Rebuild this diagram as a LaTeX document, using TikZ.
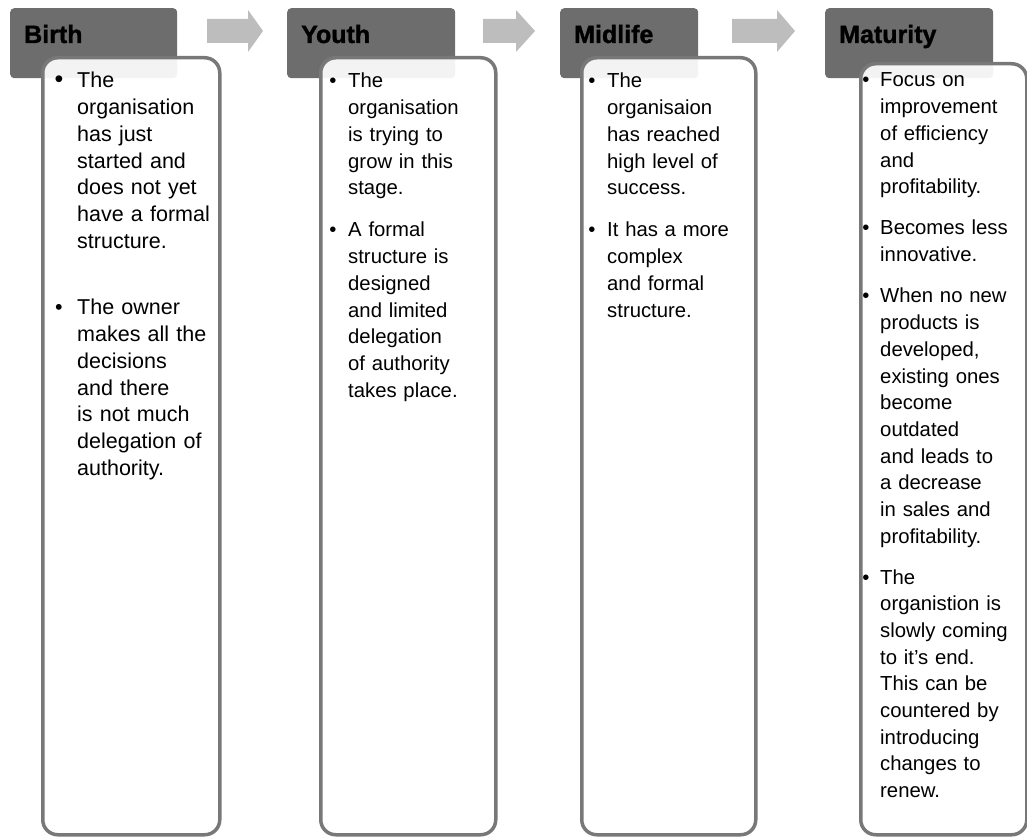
\documentclass[tikz,border=0pt]{standalone}
\usepackage{fontspec}
\setmainfont{Liberation Sans}
\newfontfamily\headfont[BoldFeatures={FakeBold=1.3}]{Liberation Sans}
\definecolor{headgray}{HTML}{6D6D6D}
\definecolor{framegray}{HTML}{787878}
\definecolor{arrowgray}{HTML}{BDBDBD}
\begin{document}
\begin{tikzpicture}[x=1pt, y=1pt,
  stagehead/.style={fill=headgray, rounded corners=4pt, inner sep=0pt, anchor=north west},
  headtext/.style={font=\fontsize{25}{30}\headfont\bfseries, anchor=base west, inner sep=0pt},
  stagebox/.style={draw=framegray, line width=3.5pt, fill=white, fill opacity=0.92,
    rounded corners=15pt, inner sep=0pt, anchor=north west},
  pointmark/.style={anchor=base, inner sep=0pt},
  pointtext/.style={align=left, text width=165pt, anchor=base west, inner sep=0pt},
  stagearrow/.style={fill=arrowgray}]
  \useasboundingbox (0,0) rectangle (1027,836);
  % stage tabs
  \foreach \n/\xl/\xr/\stage in {1/10/177/Birth, 2/287/455/Youth,
    3/560/698/Midlife, 4/825/993/Maturity}
  {
    \node[stagehead, minimum width=\xr-\xl, minimum height=70] (hd\n) at (\xl,828) {};
    \node[headtext] (ht\n) at ([xshift=14pt, yshift=-35pt]hd\n.north west) {\stage};
  }
  % arrows between tabs
  \foreach \xa/\xh/\xt in {207/248/263, 483/516/535, 732/777/795}
    \fill[stagearrow] (\xa,817) -- (\xh,817) -- (\xh,826) -- (\xt,805)
      -- (\xh,784) -- (\xh,793) -- (\xa,793) -- cycle;
  % text frames
  \foreach \n/\xl/\xr/\yt in {1/41/218/56, 2/319/494/56, 3/580/754/56, 4/859/1025/62}
    \node[stagebox, minimum width=\xr-\xl, minimum height=833-\yt] (bx\n) at (\xl,836-\yt) {};
  % bullet points
  \foreach \pid/\fsz/\msz/\xb/\xt/\yb/\ptxt in {
    a1/21.5/25/59/77/88/{The\\organisation\\has just\\started and\\does not yet\\have a formal\\structure.},
    a2/21.5/21.5/59/77/315/{The owner\\makes all the\\decisions\\and there\\is not much\\delegation of\\authority.},
    b1/20.3/20.3/333/348/88/{The\\organisation\\is trying to\\grow in this\\stage.},
    b2/20.3/20.3/333/348/237/{A formal\\structure is\\designed\\and limited\\delegation\\of authority\\takes place.},
    c1/20.3/20.3/592/607/88/{The\\organisaion\\has reached\\high level of\\success.},
    c2/20.3/20.3/592/607/237/{It has a more\\complex\\and formal\\structure.},
    d1/20.3/20.3/866/880/87/{Focus on\\improvement\\of efficiency\\and\\profitability.},
    d2/20.3/20.3/866/880/235/{Becomes less\\innovative.},
    d3/20.3/20.3/866/880/303/{When no new\\products is\\{developed,}\\existing ones\\become\\outdated\\and leads to\\a decrease\\in sales and\\profitability.},
    d4/20.3/20.3/866/880/584/{The\\organistion is\\slowly coming\\to it’s end.\\This can be\\countered by\\introducing\\changes to\\renew.}}
  {
    \node[pointmark, font=\fontsize{\msz}{26.7}\selectfont] (m\pid) at (\xb,836-\yb) {•};
    \node[pointtext, font=\fontsize{\fsz}{26.7}\selectfont] (p\pid) at (\xt,836-\yb) {\ptxt};
  }
\end{tikzpicture}
\end{document}
